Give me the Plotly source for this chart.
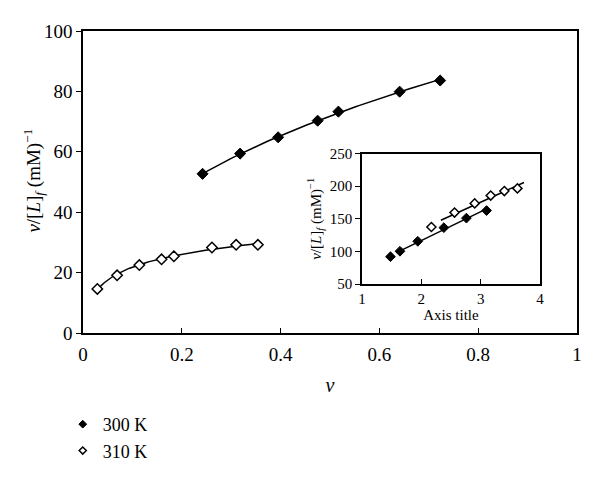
import numpy as np
import plotly.graph_objects as go

# Main plot data
v_300 = [0.242, 0.318, 0.395, 0.475, 0.517, 0.641, 0.723]
y_300 = [52.7, 59.4, 64.8, 70.3, 73.3, 79.9, 83.6]
v_310 = [0.029, 0.069, 0.114, 0.159, 0.184, 0.261, 0.310, 0.354]
y_310 = [14.6, 19.1, 22.5, 24.4, 25.4, 28.3, 29.2, 29.2]

# Inset data
ix_300 = [1.48, 1.64, 1.94, 2.38, 2.76, 3.10]
iy_300 = [92, 100.3, 115.6, 136.5, 151.1, 162.7]
ix_310 = [2.17, 2.56, 2.90, 3.17, 3.40, 3.62]
iy_310 = [137.5, 159.6, 173.7, 185.7, 192.6, 196.7]

# Trendline extents (x ranges)
tr_main_300 = [0.242, 0.723]
tr_main_310 = [0.026, 0.362]
tr_in_300 = [1.58, 3.10]
tr_in_310 = [2.33, 3.73]

labels = ["300 K", "310 K"]

SERIF = "Liberation Serif"

# Fits
p = np.polyfit(np.log(v_300), np.log(y_300), 1)          # power fit
xf300 = np.linspace(tr_main_300[0], tr_main_300[1], 60)
yf300 = np.exp(np.polyval(p, np.log(xf300)))
q = np.polyfit(np.log(v_310), y_310, 1)                  # logarithmic fit
xf310 = np.linspace(tr_main_310[0], tr_main_310[1], 60)
yf310 = np.polyval(q, np.log(xf310))
a = np.polyfit(ix_300, iy_300, 1)                        # linear fits (inset)
b = np.polyfit(ix_310, iy_310, 1)
xi300 = np.array(tr_in_300, dtype=float)
xi310 = np.array(tr_in_310, dtype=float)
yi300 = np.polyval(a, xi300)
yi310 = np.polyval(b, xi310)

fig = go.Figure()


def add_line(x, y, xa="x", ya="y"):
    fig.add_trace(go.Scatter(x=[float(t) for t in x], y=[float(t) for t in y], mode="lines",
                             line=dict(color="black", width=1.5), showlegend=False,
                             xaxis=xa, yaxis=ya, hoverinfo="skip"))


add_line(xf300, yf300)
add_line(xf310, yf310)
add_line(xi300, yi300, "x2", "y2")
add_line(xi310, yi310, "x2", "y2")


def filled(size):
    return dict(symbol="diamond", size=size, color="black", line=dict(color="black", width=1))


def hollow(size):
    return dict(symbol="diamond", size=size, color="white", line=dict(color="black", width=1.5))


fig.add_trace(go.Scatter(x=v_300, y=y_300, mode="markers", marker=filled(8.5), showlegend=False))
fig.add_trace(go.Scatter(x=v_310, y=y_310, mode="markers", marker=hollow(8), showlegend=False))
fig.add_trace(go.Scatter(x=ix_300, y=iy_300, mode="markers", marker=filled(7.5), showlegend=False,
                         xaxis="x2", yaxis="y2"))
fig.add_trace(go.Scatter(x=ix_310, y=iy_310, mode="markers", marker=hollow(7), showlegend=False,
                         xaxis="x2", yaxis="y2"))
fig.add_trace(go.Scatter(x=[None], y=[None], mode="markers", marker=filled(6), name=labels[0]))
fig.add_trace(go.Scatter(x=[None], y=[None], mode="markers", marker=hollow(5.5), name=labels[1]))

ytitle = "<i>v</i>/[<i>L</i>]<sub><i>f</i></sub> (mM)<sup>−1</sup>"

axis_common = dict(showline=True, linecolor="black", linewidth=1.5, mirror=True, automargin=False,
                   showgrid=False, zeroline=False, tickcolor="black", ticklen=5, tickwidth=1.2)

fig.update_layout(
    width=592, height=472,
    margin=dict(l=75, r=23, t=23, b=147, autoexpand=False),
    paper_bgcolor="white", plot_bgcolor="white",
    font=dict(family=SERIF, size=19, color="black"),
    xaxis=dict(axis_common, range=[0, 1], dtick=0.2, ticks="inside", ticklabelstandoff=3,
               title=dict(text="<i>v</i>", font=dict(size=20), standoff=14)),
    yaxis=dict(axis_common, range=[0, 100], dtick=20, ticks="outside"),
    xaxis2=dict(axis_common, domain=[0.5648, 0.925], anchor="y2", range=[1, 4], dtick=1,
                ticks="inside", tickfont=dict(size=15), ticklabelstandoff=0,
                title=dict(text="Axis title", font=dict(size=15), standoff=0)),
    yaxis2=dict(axis_common, domain=[0.162, 0.594], anchor="x2", range=[50, 250], dtick=50,
                ticks="outside", tickfont=dict(size=15),
                title=dict(text=ytitle, font=dict(size=15), standoff=5)),
    legend=dict(x=-0.041, xanchor="left", y=-0.2416, yanchor="top", bgcolor="rgba(0,0,0,0)",
                font=dict(size=18), tracegroupgap=0),
    annotations=[dict(text=ytitle, xref="paper", yref="paper", x=-0.101, y=0.505,
                      xanchor="center", yanchor="middle", textangle=-90, showarrow=False,
                      font=dict(size=19))],
)

fig.write_html("out.html")
